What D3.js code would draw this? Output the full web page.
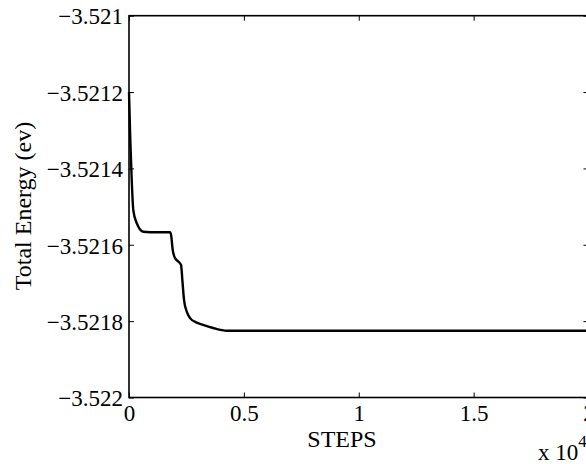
<!DOCTYPE html>
<html>
<head>
<meta charset="utf-8">
<script src="https://cdn.jsdelivr.net/npm/d3@7"></script>
<style>
  body { margin: 0; background: #fff; }
  svg { display: block; }
  svg text { font-family: "Liberation Serif", "Times New Roman", serif; }
</style>
</head>
<body>
<div class="chart"></div>
<script>
// energy minimisation trace
var steps  = [0, 57, 118, 187, 335, 623, 915, 1400, 1786, 1830, 1904, 2004, 2148, 2266, 2322, 2396, 2514, 2658, 2950, 3224, 3660, 4257, 6000, 10000, 15000, 20000];
var energy = [-3.52120, -3.521326, -3.52143, -3.521509, -3.521543, -3.521566, -3.521567, -3.521567, -3.521567, -3.521574,
              -3.521614, -3.521635, -3.521644, -3.521653, -3.521692, -3.521745, -3.521775, -3.521792, -3.521804, -3.52181,
              -3.521818, -3.521825, -3.521825, -3.521825, -3.521825, -3.521825];

var xTicks = [0, 5000, 10000, 15000, 20000];
var xTickLabels = ["0", "0.5", "1", "1.5", "2"];
var yTicks = [-3.522, -3.5218, -3.5216, -3.5214, -3.5212, -3.521];
var yTickLabels = ["\u22123.522", "\u22123.5218", "\u22123.5216", "\u22123.5214", "\u22123.5212", "\u22123.521"];

var width = 586, height = 464;
var padL = 129, padR = 588.5, padT = 15.7, padB = 397.5;

var x = d3.scaleLinear().domain([0, 20000]).range([padL, padR]);
var y = d3.scaleLinear().domain([-3.522, -3.521]).range([padB, padT]);

var svg = d3.select('.chart')
    .append('svg')
    .attr('width', width)
    .attr('height', height);

var data = steps.map(function(s, i){ return {s: s, e: energy[i]}; });

var line = d3.line()
    .x(function(d){ return x(d.s); })
    .y(function(d){ return y(d.e); })
    .curve(d3.curveMonotoneX);

svg.append('path')
    .datum(data)
    .attr('d', line)
    .attr('fill', 'none')
    .attr('stroke', '#000')
    .attr('stroke-width', 2.4)
    .attr('stroke-linejoin', 'round');

// axes: ticks pointing inward, like the matlab box
var tickLen = 5;
var fontSize = 23;

svg.append('g')
    .attr('transform', 'translate(0,' + padB + ')')
    .call(d3.axisBottom(x).tickValues(xTicks).tickSizeInner(-tickLen).tickSizeOuter(0)
        .tickFormat(function(d, i){ return xTickLabels[i]; }))
    .call(function(g){
        g.attr('font-family', null);
        g.select('.domain').remove();
        g.selectAll('text').attr('dy', null).attr('y', 23).style('font-size', fontSize + 'px').attr('fill', '#000');
    });

svg.append('g')
    .attr('transform', 'translate(0,' + padT + ')')
    .call(d3.axisTop(x).tickValues(xTicks).tickSizeInner(-tickLen).tickSizeOuter(0).tickFormat(''))
    .call(function(g){ g.select('.domain').remove(); });

svg.append('g')
    .attr('transform', 'translate(' + padL + ',0)')
    .call(d3.axisLeft(y).tickValues(yTicks).tickSizeInner(-tickLen).tickSizeOuter(0)
        .tickFormat(function(d, i){ return yTickLabels[i]; }))
    .call(function(g){
        g.attr('font-family', null);
        g.select('.domain').remove();
        g.selectAll('text').attr('x', -6).attr('dy', '0.36em').style('font-size', fontSize + 'px').attr('fill', '#000');
    });

svg.append('g')
    .attr('transform', 'translate(' + padR + ',0)')
    .call(d3.axisRight(y).tickValues(yTicks).tickSizeInner(-tickLen).tickSizeOuter(0).tickFormat(''))
    .call(function(g){ g.select('.domain').remove(); });

svg.append('rect')
    .attr('x', padL).attr('y', padT)
    .attr('width', padR - padL).attr('height', padB - padT)
    .attr('fill', 'none')
    .attr('stroke', '#000')
    .attr('stroke-width', 1.6);

svg.append('text')
    .attr('x', 342)
    .attr('y', 447)
    .attr('text-anchor', 'middle')
    .style('font-size', '24px')
    .text('STEPS');

var mult = svg.append('text')
    .attr('x', 538)
    .attr('y', 460)
    .style('font-size', fontSize + 'px');
mult.append('tspan').text('x 10');
mult.append('tspan').attr('dy', -13).style('font-size', '17px').text('4');

svg.append('text')
    .attr('transform', 'translate(31,206) rotate(-90)')
    .attr('text-anchor', 'middle')
    .style('font-size', '24px')
    .text('Total Energy (ev)');
</script>
</body>
</html>
